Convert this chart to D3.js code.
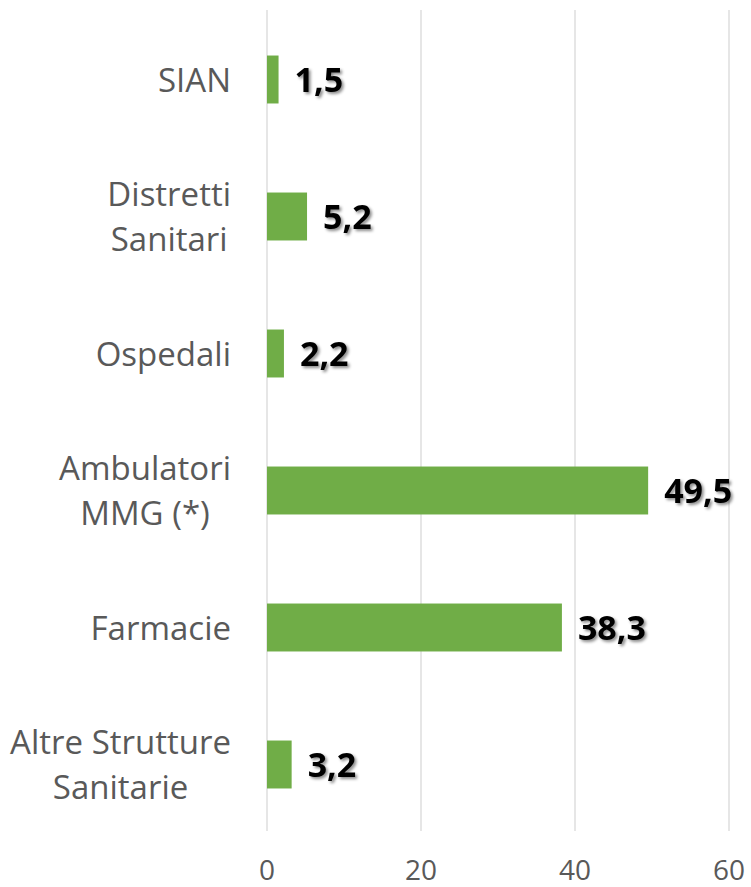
<!DOCTYPE html>
<html>
<head>
<meta charset="utf-8">
<script src="https://cdn.jsdelivr.net/npm/d3@7"></script>
<style>
  html, body { margin: 0; padding: 0; background: #fff; }
  svg { display: block; }
</style>
</head>
<body>
<div class="vis-barchart"></div>
<script>
// data
const categories = [
    ["SIAN"],
    ["Distretti", "Sanitari"],
    ["Ospedali"],
    ["Ambulatori", "MMG (*)"],
    ["Farmacie"],
    ["Altre Strutture", "Sanitarie"]
];
const values = [1.5, 5.2, 2.2, 49.5, 38.3, 3.2];
const xTicks = [0, 20, 40, 60];

const config = {
    "bar-color": "#70AD47",
    "grid-color": "#D9D9D9",
    "text-color": "#595959",
    "font": "'Open Sans', Carlito, Calibri, sans-serif"
};

const W = 751, H = 887;
const svg = d3.select(".vis-barchart")
    .append("svg")
    .attr("width", W)
    .attr("height", H);

const defs = svg.append("defs");
defs.append("filter")
    .attr("id", "shadow")
    .attr("x", "-20%").attr("y", "-20%")
    .attr("width", "140%").attr("height", "150%")
    .append("feDropShadow")
    .attr("dx", 2).attr("dy", 2)
    .attr("stdDeviation", 1.5)
    .attr("flood-color", "#000")
    .attr("flood-opacity", 0.45);

// scales
const x = d3.scaleLinear().domain([0, 60]).range([267, 729]);
const y = d3.scaleBand()
    .domain(d3.range(categories.length))
    .range([11, 833])
    .paddingInner(0.65)
    .paddingOuter(0.325);

// gridlines
svg.append("g")
    .selectAll("line")
    .data(xTicks)
    .enter()
    .append("line")
    .attr("x1", d => x(d)).attr("x2", d => x(d))
    .attr("y1", 10).attr("y2", 831)
    .attr("stroke", config["grid-color"])
    .attr("stroke-width", 1.3);

// x tick labels
svg.append("g")
    .selectAll("text")
    .data(xTicks)
    .enter()
    .append("text")
    .attr("x", d => x(d))
    .attr("y", 880)
    .attr("text-anchor", "middle")
    .attr("fill", config["text-color"])
    .style("font-family", config.font)
    .style("font-size", "28px")
    .text(d => d);

// bars
svg.append("g")
    .selectAll("rect")
    .data(values)
    .enter()
    .append("rect")
    .attr("x", x(0))
    .attr("y", (d, i) => y(i))
    .attr("width", d => x(d) - x(0))
    .attr("height", y.bandwidth())
    .attr("fill", config["bar-color"]);

// value labels
svg.append("g")
    .selectAll("text")
    .data(values)
    .enter()
    .append("text")
    .attr("x", d => x(d) + 16)
    .attr("y", (d, i) => y(i) + y.bandwidth() / 2 + 12)
    .attr("fill", "#000")
    .attr("filter", "url(#shadow)")
    .style("font-family", config.font)
    .style("font-size", "34px")
    .style("font-weight", "bold")
    .text(d => d.toFixed(1).replace(".", ","));

// category labels (multi-line, centred within a right-aligned block)
const labelRight = 231;
const lineH = 45;
const cat = svg.append("g")
    .selectAll("g")
    .data(categories)
    .enter()
    .append("g");

cat.each(function (lines, i) {
    const g = d3.select(this);
    const cy = y(i) + y.bandwidth() / 2;
    const top = cy - (lines.length - 1) * lineH / 2;
    const texts = lines.map((t, j) => g.append("text")
        .attr("y", top + j * lineH + 12)
        .attr("fill", config["text-color"])
        .style("font-family", config.font)
        .style("font-size", "33px")
        .attr("text-anchor", "middle")
        .text(t));
    const maxW = d3.max(texts, t => t.node().getComputedTextLength());
    texts.forEach(t => t.attr("x", labelRight - maxW / 2));
});
</script>
</body>
</html>
